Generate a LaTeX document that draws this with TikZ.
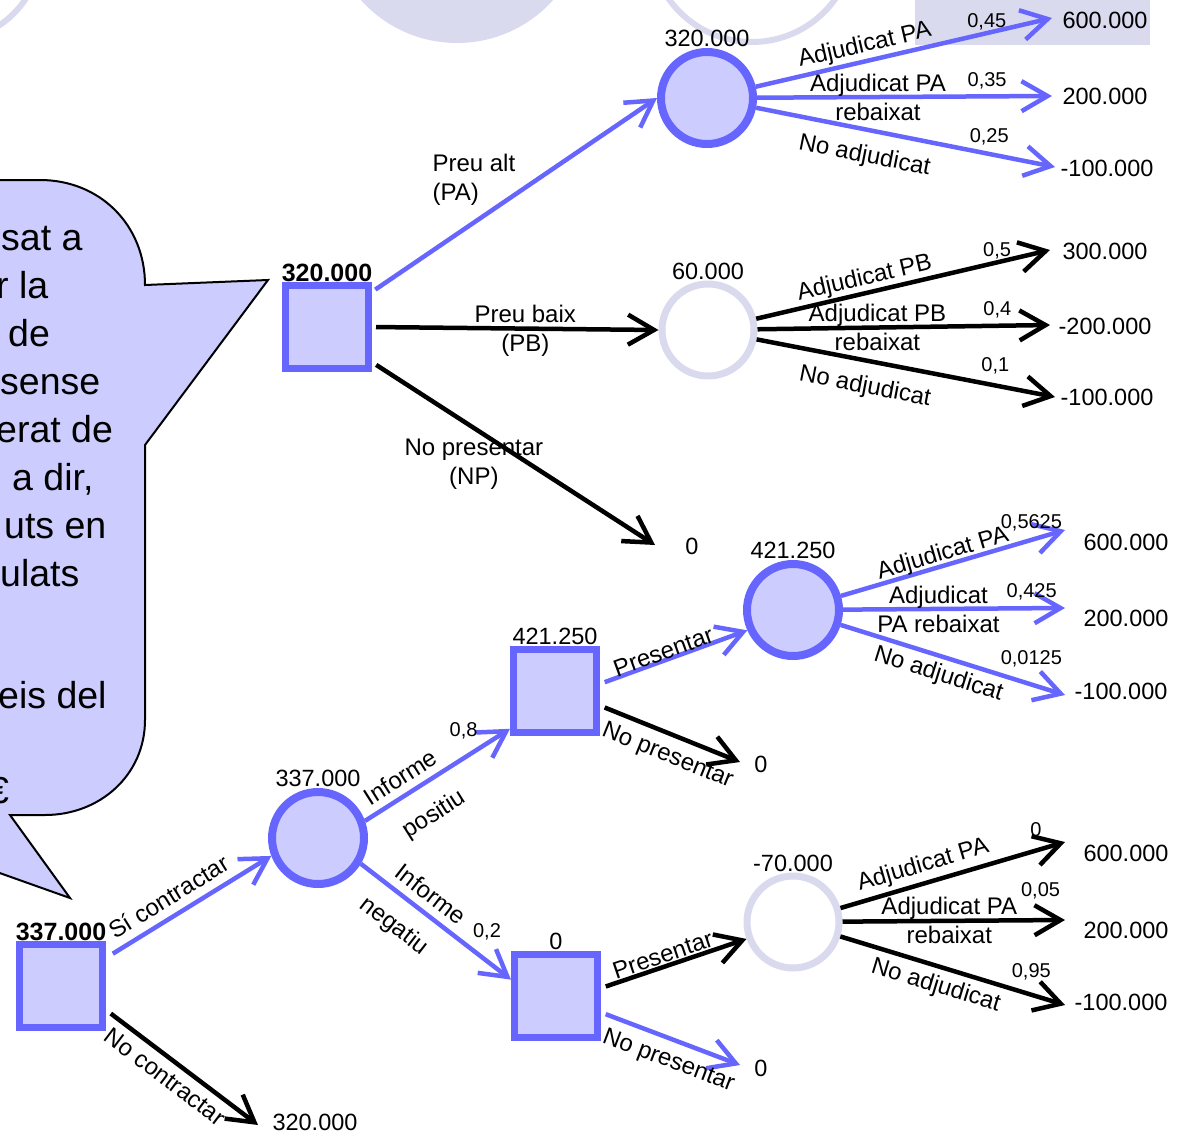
\documentclass[tikz,border=0pt]{standalone}
\usepackage{fontspec}
\setmainfont{Liberation Sans}
\usepackage{tikz}
\usetikzlibrary{arrows.meta,positioning}
\definecolor{treeblue}{RGB}{102,102,255}
\definecolor{treefill}{RGB}{204,204,255}
\definecolor{treeghost}{RGB}{218,218,238}

\begin{document}
\begin{tikzpicture}[x=1pt, y=-1pt,
    txt/.style={font=\fontsize{23.5}{29}\selectfont, inner sep=1pt},
    lbl/.style={font=\fontsize{24}{29}\selectfont, inner sep=1pt},
    boldval/.style={font=\fontsize{25}{29}\selectfont\bfseries, inner sep=1pt},
    prob/.style={font=\fontsize{20}{24}\selectfont, inner sep=1pt},
    bubble/.style={font=\fontsize{37.5}{48}\selectfont, anchor=base west, inner sep=0pt},
    decision/.style={rectangle, draw=treeblue, fill=treefill, line width=7pt, minimum size=83pt, inner sep=0pt},
    chance/.style={circle, draw=treeblue, fill=treefill, line width=8pt, minimum size=92pt, inner sep=0pt},
    pruned/.style={circle, draw=treeghost, fill=white, line width=7pt, minimum size=92pt, inner sep=0pt},
    branch/.style={line width=4.5pt, -{Straight Barb[length=26pt,width=30pt]}},
    optbranch/.style={branch, draw=treeblue},
    subbranch/.style={branch, draw=black}]
    \useasboundingbox (0,0) rectangle (1182,1132);
    \clip (0,0) rectangle (1182,1132);

    % Leftovers of the slide behind
    \draw[treeghost, line width=6pt] (-50,-50) circle[radius=90];
    \fill[treeghost] (457,-86) circle[radius=129];
    \draw[treeghost, line width=6pt] (752,-60) circle[radius=102];
    \fill[treeghost] (915,0) rectangle (1150,45);

    % Callout
    \draw[fill=treefill, line width=2pt] (-20,180) -- (40,180) .. controls (100,180) and (145,225) .. (145,285)
        -- (268,280) -- (145,445) -- (145,720) .. controls (145,775) and (100,815) .. (45,815)
        -- (10,815) -- (70,898) -- (-20,866) -- cycle;
    \node[bubble] (b1) at (1,250) {sat a};
    \node[bubble] (b2) at (-4,298) {r la};
    \node[bubble] (b3) at (8,346) {de};
    \node[bubble] (b4) at (0,394) {sense};
    \node[bubble] (b5) at (-4,442) {erat de};
    \node[bubble] (b6) at (12,490) {a dir,};
    \node[bubble] (b7) at (4,538) {uts en};
    \node[bubble] (b8) at (0,586) {ulats};
    \node[bubble] (b9) at (-2,708) {eis del};
    \node[bubble] (b10) at (-12,803) {€};

    % Nodes of the tree
    \node[decision] (D0) at (61,986) {};
    \node[decision] (D1) at (327,327) {};
    \node[chance] (C1) at (707,98) {};
    \node[pruned] (C2) at (708,330) {};
    \node[chance] (C4) at (318,838) {};
    \node[decision] (D2) at (555,691) {};
    \node[decision] (D3) at (556,996) {};
    \node[chance] (C3) at (793,610) {};
    \node[pruned] (C5) at (793,922) {};

    % Expected values
    \node[boldval, above=-1pt of D0] (vD0) {337.000};
    \node[boldval, above=-1pt of D1] (vD1) {320.000};
    \node[txt, above=0pt of C1] (vC1) {320.000};
    \node[txt, above=0pt of C2] (vC2) {60.000};
    \node[txt, above=0pt of C3] (vC3) {421.250};
    \node[txt, above=0pt of C4] (vC4) {337.000};
    \node[txt, above=0pt of C5] (vC5) {-70.000};
    \node[txt, above=0pt of D2] (vD2) {421.250};
    \node[txt, above=0pt of D3] (vD3) {0};

    % Ends of the branches
    \coordinate (e11) at (1052,18);
    \coordinate (e12) at (1052,96);
    \coordinate (e13) at (1055,167);
    \coordinate (e21) at (1050,250);
    \coordinate (e22) at (1050,325);
    \coordinate (e23) at (1055,397);
    \coordinate (eNP) at (655,545);
    \coordinate (e31) at (1065,530);
    \coordinate (e32) at (1065,608);
    \coordinate (e33) at (1065,695);
    \coordinate (e2N) at (740,762);
    \coordinate (e51) at (1065,842);
    \coordinate (e52) at (1065,920);
    \coordinate (e53) at (1065,1005);
    \coordinate (e3N) at (740,1065);
    \coordinate (e0N) at (258,1125);

    % Pay-offs
    \node[txt] (t11) at (1105,20) {600.000};
    \node[txt] (t12) at (1105,96) {200.000};
    \node[txt] (t13) at (1107,168) {-100.000};
    \node[txt] (t21) at (1105,251) {300.000};
    \node[txt] (t22) at (1105,326) {-200.000};
    \node[txt] (t23) at (1107,397) {-100.000};
    \node[txt] (tNP) at (692,546) {0};
    \node[txt] (t31) at (1126,542) {600.000};
    \node[txt] (t32) at (1126,618) {200.000};
    \node[txt] (t33) at (1121,691) {-100.000};
    \node[txt] (t2N) at (761,764) {0};
    \node[txt] (t51) at (1126,853) {600.000};
    \node[txt] (t52) at (1126,930) {200.000};
    \node[txt] (t53) at (1121,1002) {-100.000};
    \node[txt] (t3N) at (761,1068) {0};
    \node[txt] (t0N) at (315,1122) {320.000};

    % Contract the report or not
    \draw[optbranch, shorten <=8pt] (D0.32) -- node[lbl, pos=0.44, sloped, above=7pt] (lSi) {Sí contractar} (C4.201);
    \draw[subbranch, shorten <=6pt] (D0.-28) -- node[lbl, pos=0.46, sloped, below=6pt] (lNo) {No contractar} (e0N);

    % Report
    \draw[optbranch] (C4.20) -- node[lbl, pos=0.31, sloped, above=6pt] (lIP) {Informe}
        node[lbl, pos=0.36, sloped, below=18pt] (lPo) {positiu}
        node[prob, pos=0.68, above=16pt] (pIP) {0,8} (D2.220);
    \draw[optbranch] (C4.-31) -- node[lbl, pos=0.39, sloped, above=7pt] (lIN) {Informe}
        node[lbl, pos=0.34, sloped, below=15pt] (lNe) {negatiu}
        node[prob, pos=0.84, above=18pt] (pIN) {0,2} (D3.160);

    % Price of the offer
    \draw[optbranch, shorten <=4pt] (D1.38) -- node[lbl, anchor=east, xshift=4pt, yshift=15pt, align=left] (lPA) {Preu alt\\(PA)} (C1.west);
    \draw[subbranch, shorten <=4pt] (D1.east) -- node[lbl, xshift=10pt, yshift=-2pt, align=center] (lPB) {Preu baix\\(PB)} (C2.west);
    \draw[subbranch, shorten <=5pt] (D1.-38) -- node[lbl, pos=0.36, below=8pt, align=center] (lNP) {No presentar\\(NP)} (eNP);

    % High price
    \draw[optbranch] (C1) -- node[lbl, pos=0.38, sloped, above=1pt] (l11) {Adjudicat PA} node[prob, pos=0.78, above=0pt] (p11) {0,45} (e11);
    \draw[optbranch] (C1) -- node[lbl, pos=0.41, align=center] (l12) {Adjudicat PA\\rebaixat} node[prob, pos=0.78, above=4pt] (p12) {0,35} (e12);
    \draw[optbranch] (C1) -- node[lbl, pos=0.38, sloped, below=12pt] (l13) {No adjudicat} node[prob, pos=0.78, above=6pt] (p13) {0,25} (e13);

    % Low price
    \draw[subbranch] (C2) -- node[lbl, pos=0.38, sloped, above=0pt] (l21) {Adjudicat PB} node[prob, pos=0.82, above=0pt] (p21) {0,5} (e21);
    \draw[subbranch] (C2) -- node[lbl, pos=0.41, align=center] (l22) {Adjudicat PB\\rebaixat} node[prob, pos=0.82, above=4pt] (p22) {0,4} (e22);
    \draw[subbranch] (C2) -- node[lbl, pos=0.38, sloped, below=12pt] (l23) {No adjudicat} node[prob, pos=0.8, above=8pt] (p23) {0,1} (e23);

    % Positive report
    \draw[optbranch, shorten <=5pt] (D2.9) -- node[lbl, pos=0.45, sloped, above=-3pt] (lP2) {Presentar} (C3.204);
    \draw[subbranch, shorten <=5pt] (D2.-18) -- node[lbl, pos=0.54, sloped, below=8pt] (lN2) {No presentar} (e2N);
    \draw[optbranch] (C3) -- node[lbl, pos=0.47, sloped, above=-3pt] (l31) {Adjudicat PA} node[prob, pos=0.85, above=6pt] (p31) {0,5625} (e31);
    \draw[optbranch] (C3) -- node[lbl, pos=0.43, align=center] (l32) {Adjudicat\\PA rebaixat} node[prob, pos=0.85, above=5pt] (p32) {0,425} (e32);
    \draw[optbranch] (C3) -- node[lbl, pos=0.46, sloped, below=4pt] (l33) {No adjudicat} node[prob, pos=0.85, above=14pt] (p33) {0,0125} (e33);

    % Negative report
    \draw[subbranch, shorten <=5pt] (D3.10) -- node[lbl, pos=0.45, sloped, above=0pt] (lP3) {Presentar} (C5.200);
    \draw[optbranch, shorten <=5pt] (D3.-20) -- node[lbl, pos=0.54, sloped, below=8pt] (lN3) {No presentar} (e3N);
    \draw[subbranch] (C5) -- node[lbl, pos=0.39, sloped, above=3pt] (l51) {Adjudicat PA} node[prob, pos=0.87, above=11pt] (p51) {0} (e51);
    \draw[subbranch] (C5) -- node[lbl, pos=0.48, align=center] (l52) {Adjudicat PA\\rebaixat} node[prob, pos=0.89, above=18pt] (p52) {0,05} (e52);
    \draw[subbranch] (C5) -- node[lbl, pos=0.45, sloped, below=5pt] (l53) {No adjudicat} node[prob, pos=0.85, above=11pt] (p53) {0,95} (e53);
\end{tikzpicture}
\end{document}
